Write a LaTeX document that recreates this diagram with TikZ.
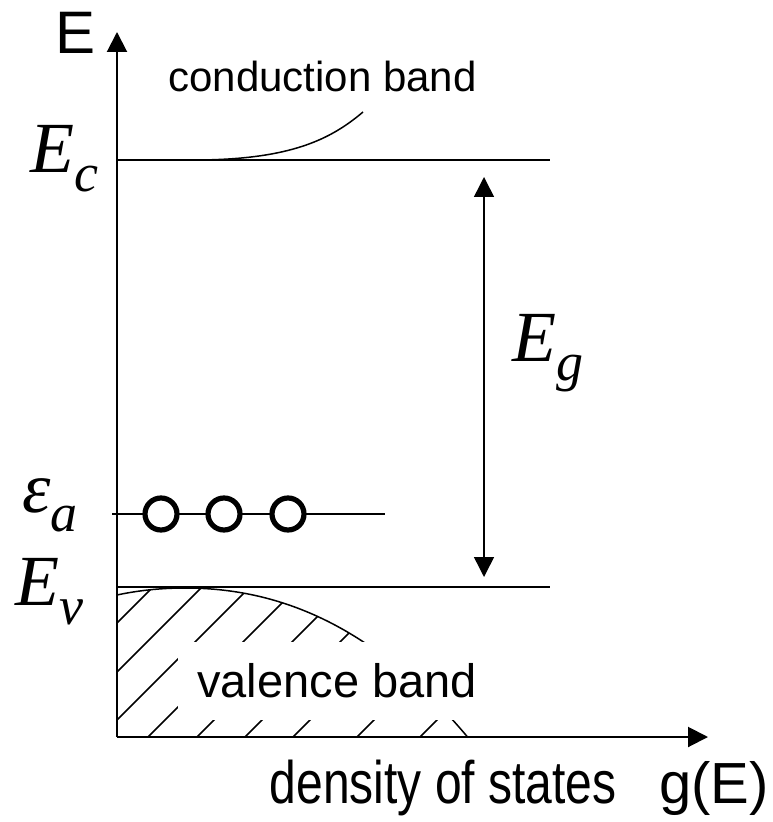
\documentclass[tikz,border=0pt]{standalone}
\usepackage{fontspec}
\setmainfont{Liberation Sans}
\newfontfamily\tnr{Liberation Serif}
\usetikzlibrary{arrows.meta}
\newcommand{\lvl}[2]{{\tnr\itshape\fontsize{36}{36}\selectfont #1\raisebox{-9.5pt}{\fontsize{27}{27}\selectfont #2}}}

\begin{document}
\begin{tikzpicture}[x=0.5pt, y=-0.5pt, every node/.style={inner sep=0pt},
  level/.style={line width=0.75pt},
  axis/.style={line width=1pt, -{Triangle[length=10pt,width=10pt]}},
  gap/.style={line width=0.75pt, {Triangle[length=10pt,width=10pt]}-{Triangle[length=10pt,width=10pt]}},
  acceptor/.style={draw, circle, fill=white, line width=2.6pt, minimum size=16pt}]
  \useasboundingbox (0,0) rectangle (772,822);

  \coordinate (o) at (117,737);
  \coordinate (etip) at (117,32);
  \coordinate (gtip) at (708,737);
  \coordinate (ec0) at (117,160);
  \coordinate (ec1) at (550,160);
  \coordinate (ev0) at (117,587);
  \coordinate (ev1) at (550,587);
  \coordinate (ea0) at (112,514);
  \coordinate (ea1) at (385,514);
  \coordinate (gtop) at (484,177);
  \coordinate (gbot) at (484,577);
  \coordinate (cb0) at (200,160);
  \coordinate (cb1) at (363,112);

  % hatched valence band
  \begin{scope}
    \clip (117,737) -- plot[domain=117:468, samples=80, smooth, variable=\x]
      (\x, {588+14*((\x-185)/100)*((\x-185)/100)+1.65*abs((\x-185)/100)*((\x-185)/100)*((\x-185)/100)}) -- cycle;
    \foreach \c in {740,789,837,885,934,982,1030,1094,1157}
      \draw[level] (\c-737,737) -- (\c-560,560);
  \end{scope}
  \draw[level] plot[domain=117:468, samples=80, smooth, variable=\x]
    (\x, {588+14*((\x-185)/100)*((\x-185)/100)+1.65*abs((\x-185)/100)*((\x-185)/100)*((\x-185)/100)});
  \node[fill=white, minimum width=159pt, minimum height=39pt, font=\fontsize{23.5}{23.5}\selectfont] (vb) at (337,681) {valence band};

  % levels
  \draw[level] (ec0) -- (ec1);
  \draw[level] (ev0) -- (ev1);
  \draw[level] (ea0) -- (ea1);
  \draw[level] (cb0) .. controls (290,159) and (330,140) .. (cb1);
  \foreach \x/\n in {161/1,224/2,288/3}
    \node[acceptor] (a\n) at (\x,514) {};
  \draw[gap] (gtop) -- (gbot);

  % axes
  \draw[axis] (o) -- (etip);
  \draw[axis] (o) -- (gtip);

  % labels
  \node[anchor=base west, font=\fontsize{30}{30}\selectfont] (elab) at (55,54) {E};
  \node[anchor=base west, font=\fontsize{21}{21}\selectfont] (cb) at (168,92) {conduction band};
  \node[anchor=base west] (ec) at (30,173) {\lvl{E}{c}};
  \node[anchor=base west] (ea) at (22,512) {\lvl{ε}{a}};
  \node[anchor=base west] (ev) at (15,605) {\lvl{E}{v}};
  \node[anchor=base west] (eg) at (512,362) {\lvl{E}{g}};
  \node[anchor=base east, xscale=0.8, font=\fontsize{30}{30}\selectfont] (dos) at (617,803) {density of states};
  \node[anchor=base west, font=\fontsize{29}{29}\selectfont] (ge) at (659,803) {g(E)};
\end{tikzpicture}
\end{document}
